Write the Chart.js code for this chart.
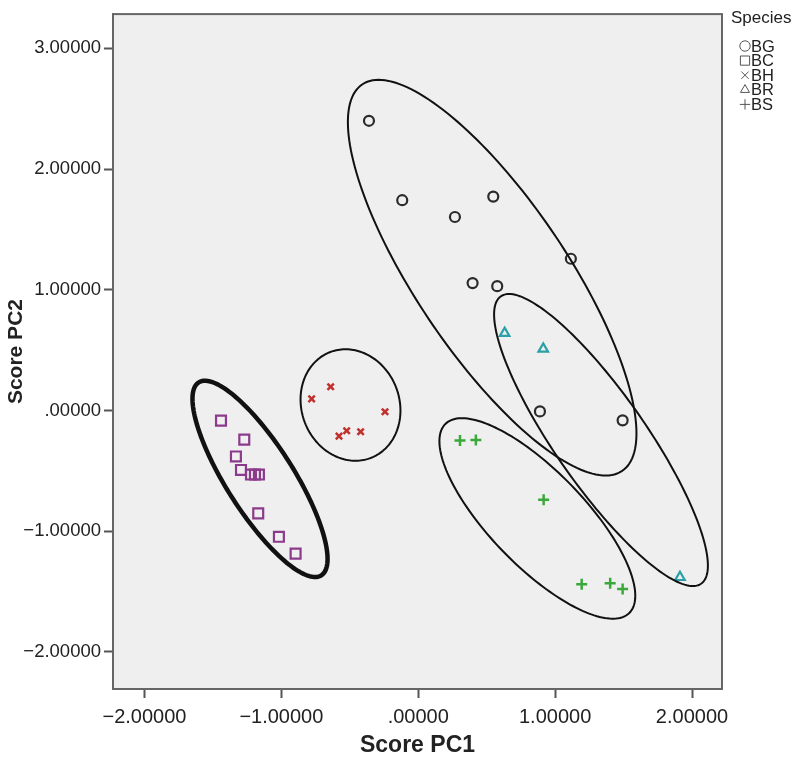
<!DOCTYPE html>
<html>
<head>
<meta charset="utf-8">
<script src="https://cdn.jsdelivr.net/npm/chart.js"></script>
<style>
  html, body { margin: 0; padding: 0; background: #fff; }
  #wrap { width: 797px; height: 763px; position: relative; }
</style>
</head>
<body>
<div id="wrap"><canvas id="chart"></canvas></div>
<script>
// PCA scores per species
const species = ['BG', 'BC', 'BH', 'BR', 'BS'];

const bgX = [-0.360, -0.117, 0.268, 0.548, 1.115, 0.397, 0.577, 0.889, 1.493];
const bgY = [2.400, 1.742, 1.603, 1.772, 1.257, 1.055, 1.030, -0.008, -0.082];

const bcX = [-1.441, -1.271, -1.332, -1.295, -1.222, -1.193, -1.164, -1.169, -1.018, -0.896];
const bcY = [-0.084, -0.242, -0.381, -0.493, -0.531, -0.531, -0.531, -0.853, -1.047, -1.186];

const bhX = [-0.640, -0.779, -0.243, -0.523, -0.579, -0.421];
const bhY = [0.196, 0.096, -0.011, -0.168, -0.213, -0.177];

const brX = [0.631, 0.913, 1.912];
const brY = [0.641, 0.510, -1.382];

const bsX = [0.305, 0.421, 0.916, 1.194, 1.402, 1.493];
const bsY = [-0.250, -0.244, -0.740, -1.440, -1.432, -1.480];

// group ellipses: centre and the two semi-axis vectors, in score units
const ellCenter = [[0.540, 1.100], [-1.156, -0.567], [-0.495, 0.045], [1.335, -0.245], [0.870, -0.895]];
const ellAxisA  = [[0.947, -1.603], [0.447, -0.800], [0.140, -0.442], [0.731, -1.191], [0.670, -0.785]];
const ellAxisB  = [[-0.463, -0.343], [-0.209, -0.146], [-0.337, -0.134], [-0.275, -0.212], [-0.251, -0.272]];
const ellWidth  = [2, 4.5, 2, 2, 2];

const xTicks = [-2, -1, 0, 1, 2];
const yTicks = [-2, -1, 0, 1, 2, 3];

const colors = ['#2b2b2b', '#8c3a8c', '#c0302c', '#2aa0a8', '#3aa83a'];
const styles = ['circle', 'rect', 'crossRot', 'triangle', 'cross'];
const radii  = [5, 7, 4.5, 5.5, 5.5];
const widths = [2.2, 2.2, 2.5, 2.2, 2.5];

const xs = [bgX, bcX, bhX, brX, bsX];
const ys = [bgY, bcY, bhY, brY, bsY];

const FONT = '"Liberation Sans", Arial, sans-serif';

function fmt(v) {
  const s = Math.abs(v).toFixed(5).replace(/^0/, '');
  return (v < 0 ? '\u2212' : '') + s;
}

const datasets = species.map((name, i) => ({
  label: name,
  data: xs[i].map((x, j) => ({ x, y: ys[i][j] })),
  pointStyle: styles[i],
  pointRadius: radii[i],
  pointBorderWidth: widths[i],
  borderColor: colors[i],
  backgroundColor: 'transparent',
  pointBackgroundColor: 'transparent',
  showLine: false,
}));

const plotFrame = {
  id: 'plotFrame',
  beforeDraw(chart) {
    const { ctx, chartArea: a } = chart;
    ctx.save();
    ctx.fillStyle = '#efefef';
    ctx.fillRect(a.left, a.top, a.right - a.left, a.bottom - a.top);
    ctx.restore();
  },
  afterDraw(chart) {
    const { ctx, chartArea: a } = chart;
    ctx.save();
    ctx.strokeStyle = '#666';
    ctx.lineWidth = 2;
    ctx.strokeRect(a.left, a.top, a.right - a.left, a.bottom - a.top);
    ctx.restore();
  }
};

const ellipses = {
  id: 'ellipses',
  afterDatasetsDraw(chart) {
    const { ctx, scales: { x, y } } = chart;
    ctx.save();
    ctx.strokeStyle = '#111';
    ellCenter.forEach((c, i) => {
      const A = ellAxisA[i], B = ellAxisB[i];
      ctx.lineWidth = ellWidth[i];
      ctx.beginPath();
      for (let k = 0; k <= 180; k++) {
        const t = k / 180 * Math.PI * 2;
        const vx = c[0] + A[0] * Math.cos(t) + B[0] * Math.sin(t);
        const vy = c[1] + A[1] * Math.cos(t) + B[1] * Math.sin(t);
        const px = x.getPixelForValue(vx), py = y.getPixelForValue(vy);
        if (k === 0) ctx.moveTo(px, py); else ctx.lineTo(px, py);
      }
      ctx.closePath();
      ctx.stroke();
    });
    ctx.restore();
  }
};

const speciesLegend = {
  id: 'speciesLegend',
  afterDraw(chart) {
    const ctx = chart.ctx;
    ctx.save();
    ctx.textBaseline = 'middle';
    ctx.textAlign = 'left';
    ctx.fillStyle = '#222';
    ctx.font = '17px ' + FONT;
    ctx.fillText('Species', 731, 18);
    ctx.font = '16.5px ' + FONT;
    species.forEach((name, i) => {
      const yy = 46 + i * 14.6;
      ctx.strokeStyle = '#555';
      ctx.fillStyle = 'rgba(0,0,0,0)';
      Chart.helpers.drawPoint(ctx, {
        pointStyle: styles[i], radius: i === 1 ? 6.5 : 5.2, borderWidth: 1.6, rotation: 0
      }, 745, yy);
      ctx.fillStyle = '#222';
      ctx.fillText(name, 751, yy + 1);
    });
    ctx.restore();
  }
};

new Chart(document.getElementById('chart'), {
  type: 'scatter',
  data: { datasets },
  options: {
    responsive: true,
    maintainAspectRatio: false,
    animation: false,
    layout: { padding: { top: 5, right: 75, left: 0, bottom: 0 } },
    plugins: {
      legend: { display: false },
      tooltip: { enabled: false }
    },
    scales: {
      x: {
        type: 'linear',
        min: -2.23, max: 2.219,
        afterBuildTicks: s => { s.ticks = xTicks.map(v => ({ value: v })); },
        afterFit: s => { s.height = 74; },
        ticks: { callback: v => fmt(v), color: '#222', padding: 7, maxRotation: 0,
                 font: { family: FONT, size: 20 } },
        grid: { drawOnChartArea: false, drawTicks: true, tickLength: 9, tickWidth: 2, tickColor: '#555' },
        border: { color: '#666', width: 2 },
        title: { display: true, text: 'Score PC1', color: '#222', padding: { top: 8 },
                 font: { family: FONT, size: 23, weight: 'bold' } }
      },
      y: {
        type: 'linear',
        min: -2.308, max: 3.284,
        afterBuildTicks: s => { s.ticks = yTicks.map(v => ({ value: v })); },
        afterFit: s => { s.width = 113; },
        ticks: { callback: v => fmt(v), color: '#222', padding: 3,
                 font: { family: FONT, size: 18.5 } },
        grid: { drawOnChartArea: false, drawTicks: true, tickLength: 9, tickWidth: 2, tickColor: '#555' },
        border: { color: '#666', width: 2 },
        title: { display: true, text: 'Score PC2', color: '#222', padding: { bottom: 4 },
                 font: { family: FONT, size: 21, weight: 'bold' } }
      }
    }
  },
  plugins: [plotFrame, ellipses, speciesLegend]
});
</script>
</body>
</html>
